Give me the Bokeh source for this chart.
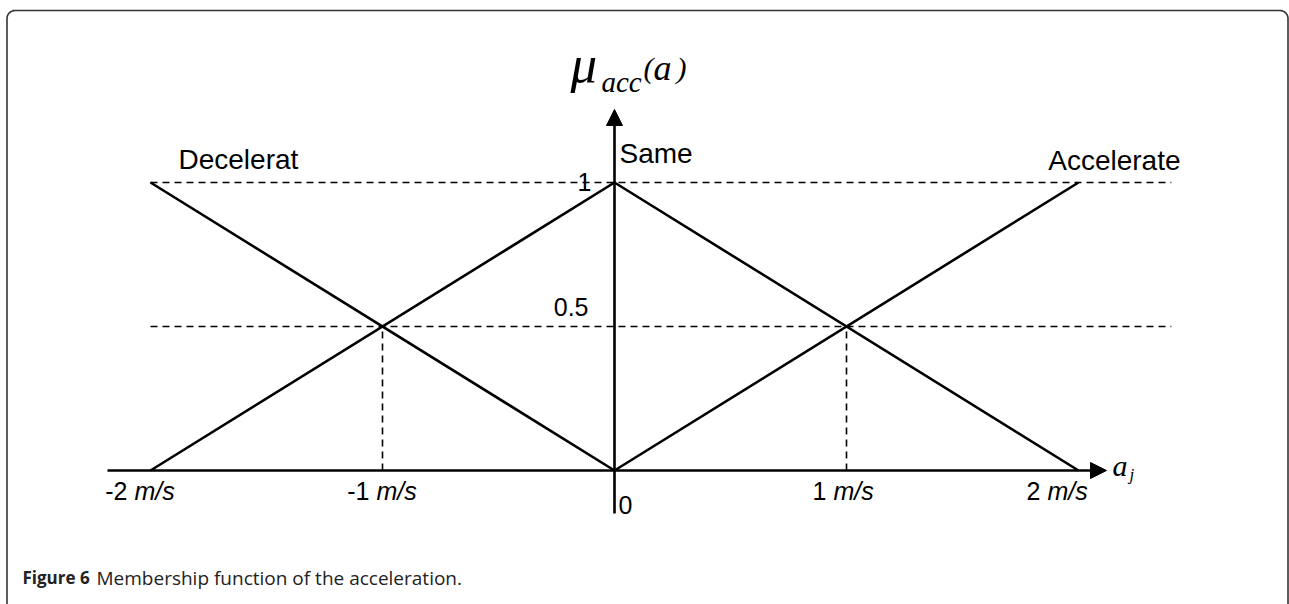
import math
from bokeh.plotting import figure
from bokeh.models import Range1d, Arrow, NormalHead
from bokeh.core.properties import value
from bokeh.embed import file_html
from bokeh.resources import INLINE

# ---------------- data ----------------
set_names = ["Decelerat", "Same", "Accelerate"]
decel_x = [-2, 0]
decel_y = [1, 0]
same_x = [-2, 0, 2]
same_y = [0, 1, 0]
accel_x = [0, 2]
accel_y = [0, 1]
tick_values = [-2, -1, 1, 2]
tick_numbers = ["-2", "-1", "1", "2"]
tick_unit = "m/s"
origin_label = "0"
levels = [0.5, 1]
level_labels = ["0.5", "1"]
cross_x = [-1, 1]
guide_end = 2.4
caption_bold = "Figure 6"
caption_text = "Membership function of the acceleration."

# ---------------- layout ----------------
W, H = 1289, 604
PAGE = 0
X0_PX, Y0_PX = 614, 470
SX, SY = 232, 288


def dx(px):
    return (px - X0_PX) / SX


def dy(py):
    return (Y0_PX - py) / SY


p = figure(width=W, height=H,
           x_range=Range1d(dx(PAGE), dx(PAGE + W)),
           y_range=Range1d(dy(PAGE + H), dy(PAGE)),
           output_backend="svg", toolbar_location=None,
           x_axis_type=None, y_axis_type=None, min_border=0)
p.grid.visible = False
p.outline_line_color = None
p.background_fill_color = "white"
p.border_fill_color = "white"

SANS = value("Liberation Sans")
SERIF = value("Liberation Serif")

# frame border (rounded top corners)
r = 8
L, R, T = 6.5, 1287.5, 10
bx, by = [dx(L)], [dy(620)]
for i in range(0, 11):
    a = math.pi - (math.pi / 2) * i / 10
    bx.append(dx(L + r + r * math.cos(a)))
    by.append(dy(T + r - r * math.sin(a)))
for i in range(0, 11):
    a = math.pi / 2 - (math.pi / 2) * i / 10
    bx.append(dx(R - r + r * math.cos(a)))
    by.append(dy(T + r - r * math.sin(a)))
bx.append(dx(R)); by.append(dy(620))
p.line(bx, by, line_color="#333333", line_width=1.6)

# guide lines
p.segment(x0=[same_x[0]] * len(levels), y0=levels,
          x1=[guide_end] * len(levels), y1=levels,
          line_color="black", line_width=1.6, line_dash="7 5")
p.segment(x0=cross_x, y0=[0] * len(cross_x), x1=cross_x, y1=[levels[0]] * len(cross_x),
          line_color="black", line_width=1.6, line_dash="7 5")

# membership functions
for xs, ys in [(decel_x, decel_y), (same_x, same_y), (accel_x, accel_y)]:
    p.line(xs, ys, line_color="black", line_width=2.6)

# axes with arrows
p.add_layout(Arrow(end=NormalHead(size=16, fill_color="black", line_color="black", line_width=1),
                   x_start=dx(107), y_start=0, x_end=dx(1106), y_end=0,
                   line_color="black", line_width=2.6))
p.add_layout(Arrow(end=NormalHead(size=16, fill_color="black", line_color="black", line_width=1),
                   x_start=0, y_start=dy(513), x_end=0, y_end=dy(109),
                   line_color="black", line_width=2.6))

# set labels
p.text(x=[decel_x[0]], y=[decel_y[0]], text=[set_names[0]], x_offset=28, y_offset=-23,
       text_font=SANS, text_font_size="28px", text_align="left", text_baseline="alphabetic")
p.text(x=[same_x[1]], y=[same_y[1]], text=[set_names[1]], x_offset=5, y_offset=-29,
       text_font=SANS, text_font_size="28px", text_align="left", text_baseline="alphabetic")
p.text(x=[accel_x[1]], y=[accel_y[1]], text=[set_names[2]], x_offset=102, y_offset=-22,
       text_font=SANS, text_font_size="28px", text_align="right", text_baseline="alphabetic")

# level labels
p.text(x=[0, 0], y=levels, text=level_labels, x_offset=[-26, -23], y_offset=[-20, -1],
       text_font=SANS, text_font_size="25px", text_align="right", text_baseline="alphabetic")

# tick labels
num_off = [-23, -13, -20, -38]
unit_off = [-16, -6, -13, -31]
p.text(x=tick_values, y=[0] * len(tick_values), text=tick_numbers, x_offset=num_off, y_offset=20,
       text_font=SANS, text_font_size="25px", text_align="right", text_baseline="alphabetic")
p.text(x=tick_values, y=[0] * len(tick_values), text=[tick_unit] * len(tick_values),
       x_offset=unit_off, y_offset=20,
       text_font=SANS, text_font_size="25px", text_font_style="italic",
       text_align="left", text_baseline="alphabetic")
p.text(x=[0], y=[0], text=[origin_label], x_offset=4, y_offset=34,
       text_font=SANS, text_font_size="25px", text_align="left", text_baseline="alphabetic")

# axis titles
p.text(x=[dx(570)], y=[dy(63)], text=["\u03bc"], text_font=SERIF, text_font_size="53px",
       text_font_style="italic", text_align="left", text_baseline="alphabetic")
p.text(x=[dx(601)], y=[dy(81)], text=["acc"], text_font=SERIF, text_font_size="29px",
       text_font_style="italic", text_align="left", text_baseline="alphabetic")
p.text(x=[dx(643), dx(653), dx(676)], y=[dy(67)] * 3, text=["(", "a", ")"], text_font=SERIF,
       text_font_size=["30px", "36px", "30px"], text_font_style="italic",
       text_align="left", text_baseline="alphabetic")
p.text(x=[dx(1112)], y=[dy(465)], text=["a"], text_font=SERIF, text_font_size="30px",
       text_font_style="italic", text_align="left", text_baseline="alphabetic")
p.text(x=[dx(1129)], y=[dy(474)], text=["j"], text_font=SERIF, text_font_size="17px",
       text_font_style="italic", text_align="left", text_baseline="alphabetic")

# caption
p.text(x=[dx(22)], y=[dy(577)], text=[caption_bold], text_font=value("Open Sans"),
       text_font_size="17px", text_font_style="bold", text_color="#222222",
       text_align="left", text_baseline="alphabetic")
p.text(x=[dx(96)], y=[dy(577)], text=[caption_text], text_font=value("Open Sans"),
       text_font_size="19px", text_color="#222222",
       text_align="left", text_baseline="alphabetic")

open("out.html", "w").write(file_html(p, INLINE))
